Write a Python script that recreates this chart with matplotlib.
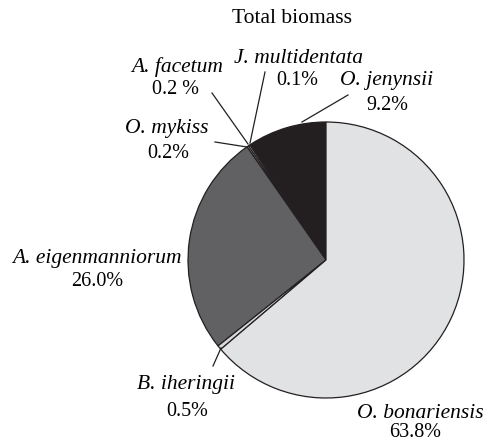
import matplotlib
matplotlib.use("Agg")
import matplotlib.pyplot as plt

# Biomass share per species (%), in pie order from the top, counterclockwise
species = ["O. jenynsii", "J. multidentata", "A. facetum", "O. mykiss",
           "A. eigenmanniorum", "B. iheringii", "O. bonariensis"]
share = [9.2, 0.1, 0.2, 0.2, 26.0, 0.5, 63.8]
share_text = ["9.2%", "0.1%", "0.2 %", "0.2%", "26.0%", "0.5%", "63.8%"]
colors = ["#231f20", "#c8c8ca", "#c8c8ca", "#c8c8ca", "#616163", "#d8d8da", "#e1e2e4"]

W, H = 493, 448

def py(y):
    # pixel row -> data y
    return H - y

fig = plt.figure(figsize=(W / 100, H / 100), dpi=100)
ax = fig.add_axes([0, 0, 1, 1])

ax.pie(share, colors=colors, startangle=90, counterclock=True,
       center=(326, py(260)), radius=138, frame=True,
       wedgeprops=dict(edgecolor="#231f20", linewidth=0.9))
ax.set_xlim(0, W)
ax.set_ylim(0, H)
ax.axis("off")

serif = "Liberation Serif"
fs_name = 15.5
fs_pct = 14.5

ax.text(292, py(18), "Total biomass", ha="center", va="center",
        family=serif, fontsize=fs_name)

# label name position, percent position, leader line (from, to)
labels = {
    "O. jenynsii": ((387, 80), (387, 105), ((348, 95), (302, 122))),
    "J. multidentata": ((298, 58), (297, 80), ((265, 72), (250, 143))),
    "A. facetum": ((177, 67), (176, 89), ((212, 93), (248, 144))),
    "O. mykiss": ((167, 128), (168, 153), ((215, 142), (247, 147))),
    "A. eigenmanniorum": ((97, 258), (97, 282), None),
    "B. iheringii": ((186, 385), (187, 411), ((213, 366), (221, 348))),
    "O. bonariensis": ((420, 413), (415, 432), None),
}

for name, pct in zip(species, share_text):
    (nx_, ny_), (px_, py_), line = labels[name]
    ax.text(nx_, py(ny_), name, ha="center", va="center",
            family=serif, style="italic", fontsize=fs_name)
    ax.text(px_, py(py_), pct, ha="center", va="center",
            family=serif, fontsize=fs_pct)
    if line is not None:
        (x0, y0), (x1, y1) = line
        ax.plot([x0, x1], [py(y0), py(y1)], color="#231f20", lw=0.9)

fig.savefig("out.png", dpi=100)
